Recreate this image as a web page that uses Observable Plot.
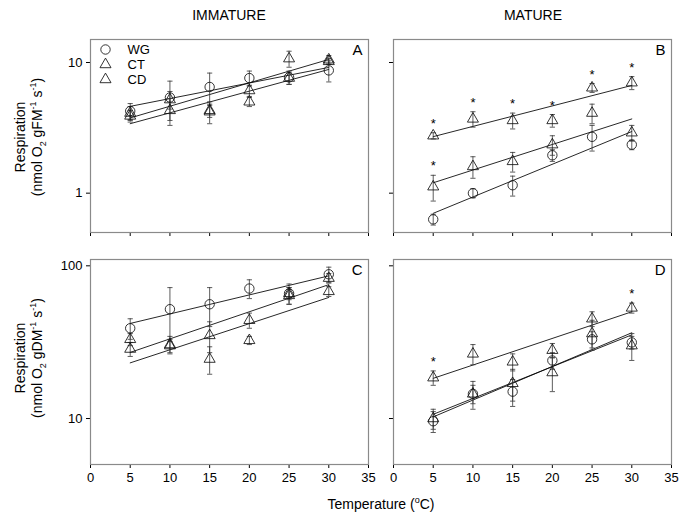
<!DOCTYPE html>
<html>
<head>
<meta charset="utf-8">
<script src="https://cdn.jsdelivr.net/npm/d3@7"></script>
<script src="https://cdn.jsdelivr.net/npm/@observablehq/plot@0.6"></script>
<style>
  html, body { margin: 0; padding: 0; background: #fff; }
  #wrap { position: relative; width: 684px; height: 524px; font-family: "Liberation Sans", Arial, sans-serif; color: #000; overflow: hidden; }
  .abs { position: absolute; }
  .hdr { font-size: 14px; transform: translate(-50%, -50%); white-space: nowrap; }
  .ylab { font-size: 14px; line-height: 17px; text-align: center; white-space: nowrap; transform: translate(-50%, -50%) rotate(-90deg); }
  .xlab { font-size: 14px; transform: translate(-50%, -50%); white-space: nowrap; }
  sub, sup { font-size: 9px; line-height: 0; }
</style>
</head>
<body>
<div id="wrap"></div>
<script>
// ---------- data ----------
const temps = [5, 10, 15, 20, 25, 30];
const seriesNames = ["WG", "CT", "CD"];
const xTicks = [0, 5, 10, 15, 20, 25, 30, 35];
const yTicksFM = [1, 10];
const yTicksDM = [10, 100];
const panelLetters = ["A", "B", "C", "D"];
const columnTitles = ["IMMATURE", "MATURE"];

// Panel A (immature, fresh mass)
const aWG = [4.25, 5.4, 6.5, 7.6, 7.7, 8.7];
const aWGse = [0.6, 1.8, 1.8, 1.0, 0.9, 1.6];
const aCT = [4.1, 5.2, 4.3, 6.1, 10.7, 10.5];
const aCTse = [0.5, 0.8, 0.5, 0.6, 1.5, 0.8];
const aCD = [3.9, 4.3, 4.2, 5.0, 7.6, 10.2];
const aCDse = [0.4, 1.0, 0.8, 0.4, 0.8, 0.5];

// Panel B (mature, fresh mass)
const bWG = [0.63, 1.0, 1.15, 1.95, 2.7, 2.35];
const bWGse = [0.06, 0.08, 0.2, 0.2, 0.6, 0.2];
const bCT = [1.12, 1.6, 1.75, 2.35, 4.1, 2.9];
const bCTse = [0.25, 0.3, 0.3, 0.4, 0.7, 0.4];
const bCD = [2.75, 3.7, 3.6, 3.6, 6.4, 7.0];
const bCDse = [0.15, 0.5, 0.5, 0.4, 0.5, 0.8];
const bCTstar = [1, 0, 0, 0, 0, 0];
const bCDstar = [1, 1, 1, 1, 1, 1];

// Panel C (immature, dry mass)
const cWG = [39, 52, 56, 71, 66, 88];
const cWGse = [6, 20, 16, 10, 10, 10];
const cCT = [33, 30.5, 35, 44, 66, 83];
const cCTse = [3, 4, 8, 5, 6, 6];
const cCD = [28.5, 30, 24.5, 32.5, 64, 68];
const cCDse = [3, 3, 5, 2, 8, 5];

// Panel D (mature, dry mass)
const dWG = [9.6, 14.5, 15, 24, 33, 31.5];
const dWGse = [1.5, 2, 3, 3, 4, 3];
const dCT = [10, 14.5, 17, 20, 36, 30];
const dCTse = [1.5, 3, 4, 5, 8, 6];
const dCD = [18.5, 26.5, 23.5, 28, 45, 53];
const dCDse = [2, 4, 3, 3, 5, 4];
const dCDstar = [1, 0, 0, 0, 0, 1];

// ---------- helpers ----------
function rows(name, vals, ses, stars) {
  return temps.map((t, i) => ({series: name, x: t, y: vals[i], se: ses[i], star: stars ? stars[i] : 0}));
}
function fit(name, vals) {
  const lx = temps, ly = vals.map(Math.log10);
  const mx = d3.mean(lx), my = d3.mean(ly);
  const b = d3.sum(lx, (x, i) => (x - mx) * (ly[i] - my)) / d3.sum(lx, x => (x - mx) ** 2);
  const a = my - b * mx;
  const x0 = d3.min(temps), x1 = d3.max(temps);
  return [{series: name, x: x0, y: 10 ** (a + b * x0)}, {series: name, x: x1, y: 10 ** (a + b * x1)}];
}
const capSymbol = {
  draw(ctx, size) {
    const w = Math.sqrt(size / Math.PI);
    ctx.moveTo(-w, 0);
    ctx.lineTo(w, 0);
  }
};

const wrap = document.getElementById("wrap");
function place(el, left, top) {
  el.style.position = "absolute";
  el.style.left = left + "px";
  el.style.top = top + "px";
  wrap.appendChild(el);
}

const ML = 40, MR = 10, MT = 10, MB = 30;
const frameW = 278;

function panel(opts) {
  const {series, domain, yTicks, showX, showY, letter, legend, frameLeft, frameTop, frameH} = opts;
  const data = series.flatMap(s => rows(s.name, s.vals, s.ses, s.stars));
  const lines = series.flatMap(s => fit(s.name, s.vals));
  const marks = [
    Plot.frame({stroke: "#8a8a8a", strokeWidth: 1.2}),
    Plot.line(lines, {x: "x", y: "y", z: "series", stroke: "#000", strokeWidth: 0.85}),
    Plot.ruleX(data, {x: "x", y1: d => d.y - d.se, y2: d => d.y + d.se, stroke: "#333", strokeWidth: 0.8}),
    Plot.dot(data, {x: "x", y: d => d.y + d.se, symbol: capSymbol, r: 2.6, stroke: "#333", strokeWidth: 0.8}),
    Plot.dot(data, {x: "x", y: d => d.y - d.se, symbol: capSymbol, r: 2.6, stroke: "#333", strokeWidth: 0.8}),
    Plot.dot(data.filter(d => d.series === "WG"), {x: "x", y: "y", symbol: "circle", r: 4.7, stroke: "#111", fill: "none", strokeWidth: 0.85}),
    Plot.dot(data.filter(d => d.series !== "WG"), {x: "x", y: "y", symbol: "triangle", r: 4.1, stroke: "#111", fill: "none", strokeWidth: 0.85}),
    Plot.text(data.filter(d => d.star), {x: "x", y: d => d.y + d.se, text: () => "*", dy: -5, lineAnchor: "bottom", fontSize: 13, fill: "#000"}),
    Plot.text([letter], {frameAnchor: "top-right", dx: -6, dy: 5, lineAnchor: "top", fontSize: 15, fill: "#000"})
  ];
  if (legend) {
    seriesNames.forEach((name, i) => {
      marks.push(Plot.dot([name], {frameAnchor: "top-left", dx: 15, dy: 10 + i * 15, symbol: name === "WG" ? "circle" : "triangle", r: name === "WG" ? 4.7 : 4.1, stroke: "#111", fill: "none", strokeWidth: 0.85}));
      marks.push(Plot.text([name], {frameAnchor: "top-left", dx: 37, dy: 10 + i * 15, textAnchor: "start", lineAnchor: "middle", fontSize: 13, fill: "#000"}));
    });
  }
  const chart = Plot.plot({
    width: ML + frameW + MR,
    height: MT + frameH + MB,
    marginLeft: ML, marginRight: MR, marginTop: MT, marginBottom: MB,
    style: {fontFamily: '"Liberation Sans", Arial, sans-serif', fontSize: "13px", color: "#000", background: "transparent", overflow: "visible"},
    x: {domain: [0, 35], ticks: xTicks, tickSize: 4, tickPadding: 4, line: true, label: null, tickFormat: showX ? (d => String(d)) : (() => "")},
    y: {type: "log", domain, ticks: yTicks, tickSize: 4, tickPadding: 4, line: true, label: null, tickFormat: showY ? (d => String(d)) : (() => "")},
    marks
  });
  place(chart, frameLeft - ML, frameTop - MT);
}

const topFM = [0.5, 15];
const botDM = [5, 110];

panel({series: [{name: "WG", vals: aWG, ses: aWGse}, {name: "CT", vals: aCT, ses: aCTse}, {name: "CD", vals: aCD, ses: aCDse}],
  domain: topFM, yTicks: yTicksFM, showX: false, showY: true, letter: panelLetters[0], legend: true,
  frameLeft: 90, frameTop: 39, frameH: 193});
panel({series: [{name: "WG", vals: bWG, ses: bWGse}, {name: "CT", vals: bCT, ses: bCTse, stars: bCTstar}, {name: "CD", vals: bCD, ses: bCDse, stars: bCDstar}],
  domain: topFM, yTicks: yTicksFM, showX: false, showY: false, letter: panelLetters[1], legend: false,
  frameLeft: 393, frameTop: 39, frameH: 193});
panel({series: [{name: "WG", vals: cWG, ses: cWGse}, {name: "CT", vals: cCT, ses: cCTse}, {name: "CD", vals: cCD, ses: cCDse}],
  domain: botDM, yTicks: yTicksDM, showX: true, showY: true, letter: panelLetters[2], legend: false,
  frameLeft: 90, frameTop: 259, frameH: 205});
panel({series: [{name: "WG", vals: dWG, ses: dWGse}, {name: "CT", vals: dCT, ses: dCTse}, {name: "CD", vals: dCD, ses: dCDse, stars: dCDstar}],
  domain: botDM, yTicks: yTicksDM, showX: true, showY: false, letter: panelLetters[3], legend: false,
  frameLeft: 393, frameTop: 259, frameH: 205});

// ---------- text ----------
function addText(cls, html, x, y) {
  const el = document.createElement("div");
  el.className = "abs " + cls;
  el.innerHTML = html;
  el.style.left = x + "px";
  el.style.top = y + "px";
  wrap.appendChild(el);
}
addText("hdr", columnTitles[0], 229, 15);
addText("hdr", columnTitles[1], 533, 15);
addText("ylab", "Respiration<br>(nmol O<sub>2</sub> gFM<sup>-1</sup> s<sup>-1</sup>)", 29, 137);
addText("ylab", "Respiration<br>(nmol O<sub>2</sub> gDM<sup>-1</sup> s<sup>-1</sup>)", 29, 358);
addText("xlab", "Temperature (<sup>o</sup>C)", 381, 504);
</script>
</body>
</html>
